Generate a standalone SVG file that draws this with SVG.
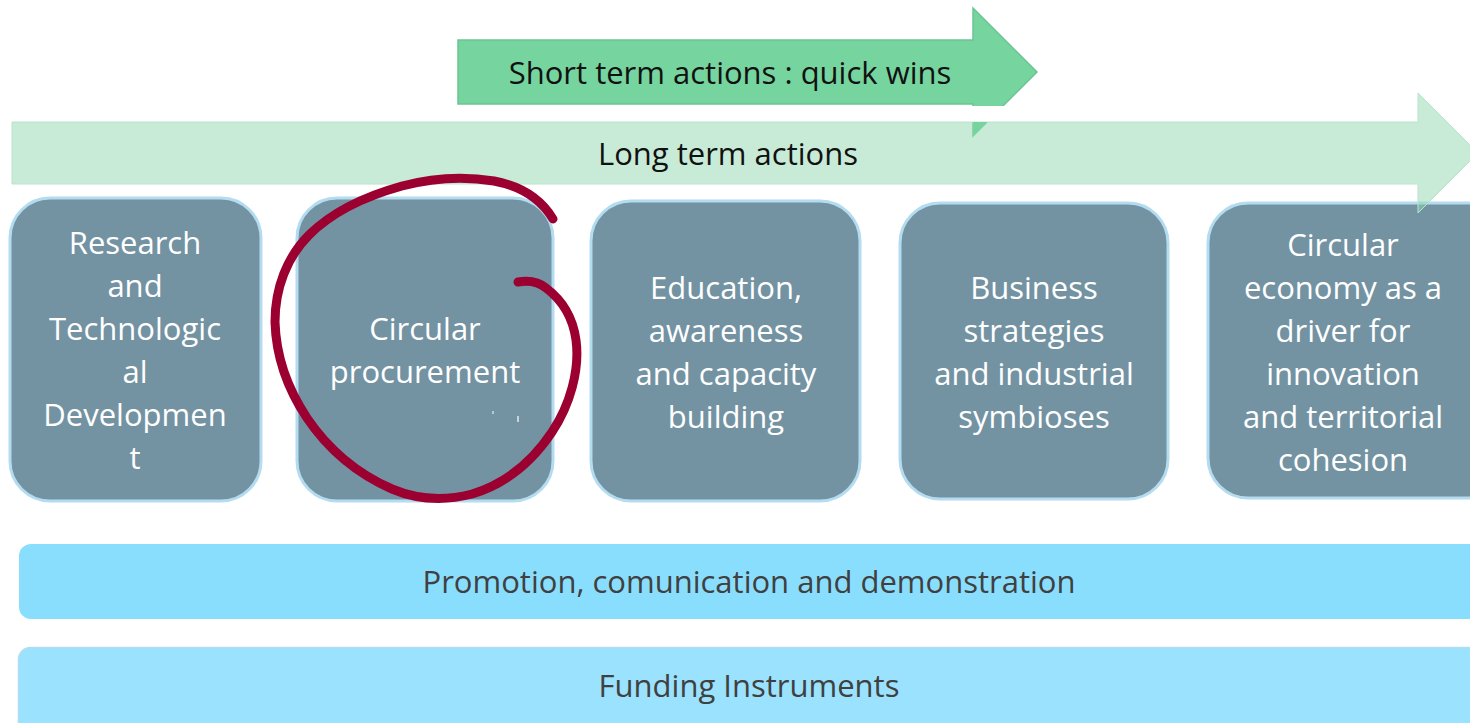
<svg xmlns="http://www.w3.org/2000/svg" width="1470" height="723" viewBox="0 0 1470 723">
<style>
.node rect{fill:#7393a3;stroke:#b4dcf0;stroke-width:3}
.nt{font-family:"Open Sans","Noto Sans",sans-serif;font-size:31px;fill:#ffffff;text-anchor:middle}
.at{font-family:"Open Sans","Noto Sans",sans-serif;font-size:31px;fill:#111111;text-anchor:middle}
.bt{font-family:"Open Sans","Noto Sans",sans-serif;font-size:31px;fill:#404040;text-anchor:middle}
</style>
<rect width="1470" height="723" fill="#ffffff"/>
<g id="short-arrow">
<polygon points="458,40 973,40 973,8 1037,72 973,136 973,104 458,104" fill="#76d49f" stroke="#6cc493" stroke-width="1.5"/>
<rect x="960" y="106" width="90" height="16" fill="#ffffff"/>
<text class="at" x="730" y="84">Short term actions : quick wins</text>
</g>
<g id="nodes">
<g id="n1" class="node"><rect x="10" y="198" width="251" height="303" rx="40"/>
<text class="nt" x="135" y="254">Research</text><text class="nt" x="135" y="297">and</text><text class="nt" x="135" y="340">Technologic</text><text class="nt" x="135" y="383">al</text><text class="nt" x="135" y="426">Developmen</text><text class="nt" x="135" y="469">t</text></g>
<g id="n2" class="node"><rect x="297" y="198" width="256" height="303" rx="40"/>
<text class="nt" x="425" y="340">Circular</text><text class="nt" x="425" y="383">procurement</text>
<line x1="493" y1="411" x2="493" y2="414" stroke="#ffffff" stroke-width="1"/><line x1="518" y1="416" x2="518" y2="422" stroke="#ffffff" stroke-width="1.2"/></g>
<g id="n3" class="node"><rect x="591" y="201" width="269" height="300" rx="40"/>
<text class="nt" x="726" y="299">Education,</text><text class="nt" x="726" y="342">awareness</text><text class="nt" x="726" y="385">and capacity</text><text class="nt" x="726" y="428">building</text></g>
<g id="n4" class="node"><rect x="900" y="203" width="268" height="296" rx="40"/>
<text class="nt" x="1034" y="299">Business</text><text class="nt" x="1034" y="342">strategies</text><text class="nt" x="1034" y="385">and industrial</text><text class="nt" x="1034" y="428">symbioses</text></g>
<g id="n5" class="node"><rect x="1208" y="203" width="300" height="295" rx="40"/>
<text class="nt" x="1343" y="256">Circular</text><text class="nt" x="1343" y="299">economy as a</text><text class="nt" x="1343" y="342">driver for</text><text class="nt" x="1343" y="385">innovation</text><text class="nt" x="1343" y="428">and territorial</text><text class="nt" x="1343" y="471">cohesion</text></g>
</g>
<g id="long-arrow">
<polygon points="12,122 1418,122 1418,93 1478,153 1418,213 1418,184 12,184" fill="#8fd7b0" fill-opacity="0.5" stroke="#b8e4cc" stroke-width="1"/>
<polygon points="973,122 987,122 973,136" fill="#76d49f"/>
<text class="at" x="728" y="165">Long term actions</text>
</g>
<g id="bars">
<g id="bar1"><rect x="19" y="544" width="1470" height="75" rx="12" fill="#8adefd"/>
<text class="bt" x="749" y="593">Promotion, comunication and demonstration</text></g>
<g id="bar2"><rect x="18.5" y="647.5" width="1470" height="90" rx="12" fill="#9ae2fd" stroke="#b3dcef" stroke-width="1.5"/>
<text class="bt" x="749" y="697">Funding Instruments</text></g>
</g>
<g id="highlight" fill="none" stroke="#9b0030" stroke-linecap="round" stroke-linejoin="round">
<path d="M518,282 C530,280 540,283 546,288 C562,300 573,318 576,340 C580,370 570,405 552,432 C532,462 505,484 472,494 C445,501 418,500 392,489 C360,475 330,452 307,418 C287,388 276,355 275,322 C275,288 287,257 309,235 C334,210 366,196 402,186 C432,178 464,176 494,181 C520,186 541,199 553,219" stroke-width="9"/>
</g>
</svg>
